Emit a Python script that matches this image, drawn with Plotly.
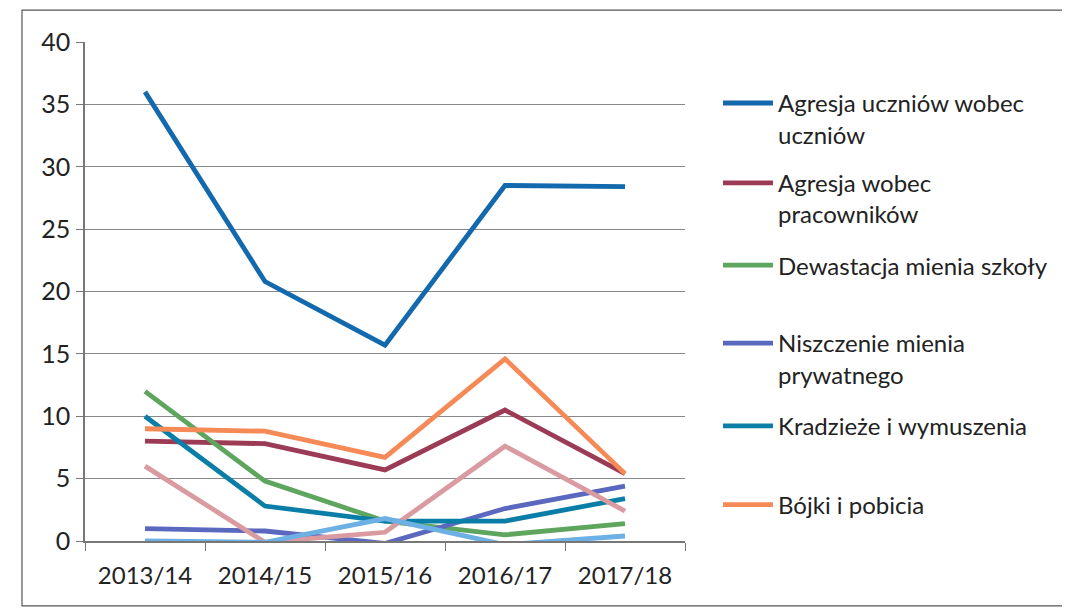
import plotly.graph_objects as go

categories = ["2013/14", "2014/15", "2015/16", "2016/17", "2017/18"]

agresja_uczniow = [36.0, 20.8, 15.7, 28.5, 28.4]
agresja_pracownikow = [8.0, 7.8, 5.7, 10.5, 5.4]
dewastacja = [12.0, 4.8, 1.6, 0.5, 1.4]
niszczenie = [1.0, 0.8, -0.2, 2.6, 4.4]
kradzieze = [10.0, 2.8, 1.6, 1.6, 3.4]
bojki = [9.0, 8.8, 6.7, 14.6, 5.4]
seria7 = [6.0, -0.1, 0.7, 7.6, 2.4]
seria8 = [0.0, -0.1, 1.8, -0.3, 0.4]

series = [
    ("Agresja uczniów wobec<br>uczniów", agresja_uczniow, "#1269ad", True),
    ("Agresja wobec<br>pracowników", agresja_pracownikow, "#9c3b55", True),
    ("Dewastacja mienia szkoły", dewastacja, "#5ea65e", True),
    ("Niszczenie mienia<br>prywatnego", niszczenie, "#5a68bf", True),
    ("Kradzieże i wymuszenia", kradzieze, "#0a7ea6", True),
    ("Bójki i pobicia", bojki, "#f68a56", True),
    ("Seria 7", seria7, "#d99aa0", False),
    ("Seria 8", seria8, "#6db0e3", False),
]

legend_y = [0.922, 0.762, 0.597, 0.441, 0.275, 0.117]

fig = go.Figure()
for i, (name, vals, color, show) in enumerate(series):
    kw = {}
    if show:
        kw["legend"] = "legend" if i == 0 else f"legend{i+1}"
    fig.add_trace(go.Scatter(
        x=categories, y=vals, mode="lines", name=name,
        line=dict(color=color, width=4.8),
        showlegend=show, **kw,
    ))

font = dict(family="Lato, 'Open Sans', sans-serif", size=24, color="#222")
legends = {}
for i, yy in enumerate(legend_y):
    key = "legend" if i == 0 else f"legend{i+1}"
    legends[key] = dict(
        x=1.055, y=yy, xanchor="left", yanchor="top", valign="top",
        font=font, bgcolor="rgba(0,0,0,0)", itemwidth=50,
    )

fig.update_layout(
    width=1062, height=606,
    paper_bgcolor="white", plot_bgcolor="white",
    margin=dict(l=77, r=385, t=34, b=73),
    font=font,
    xaxis=dict(
        type="category", range=[-0.5, 4.5],
        showline=True, linecolor="#777", linewidth=1.5,
        ticks="outside", tickson="boundaries", ticklen=8, tickcolor="#777",
        showgrid=False, tickfont=dict(size=24),
        ticklabelstandoff=12,
    ),
    yaxis=dict(
        range=[0, 40], dtick=5,
        showline=True, linecolor="#777", linewidth=1.5,
        ticks="outside", ticklen=7, tickcolor="#777",
        showgrid=True, gridcolor="#888", gridwidth=1.2,
        zeroline=False, tickfont=dict(size=25),
        ticklabelstandoff=1,
    ),
    shapes=[dict(
        type="rect", xref="paper", yref="paper",
        x0=-0.105, x1=1.633, y0=-0.13, y1=1.064,
        line=dict(color="#555", width=1.2),
    )],
    **legends,
)

fig.write_html("out.html")
